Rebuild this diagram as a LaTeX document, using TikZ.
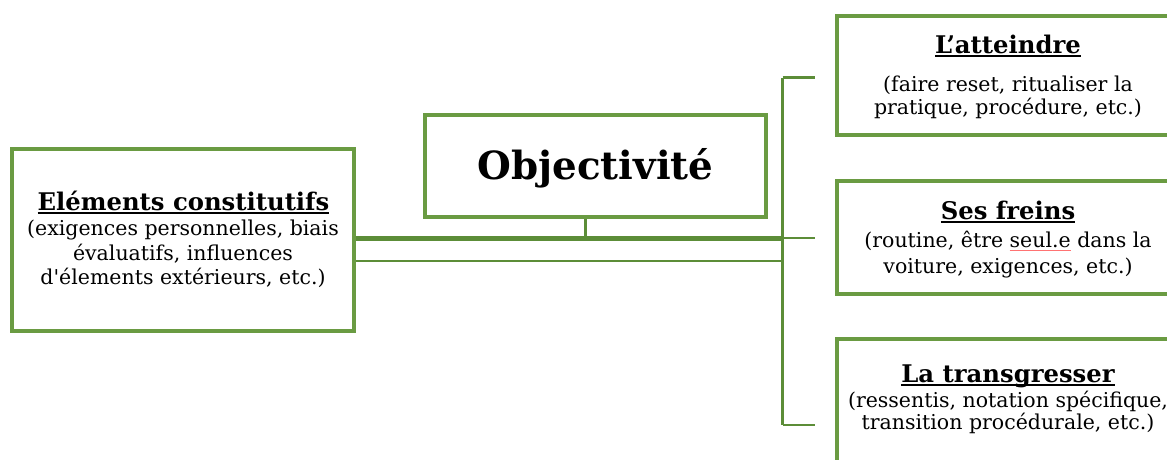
\documentclass[tikz,border=0pt]{standalone}
\usepackage{fontspec}
\setmainfont{DejaVu Serif}[Ligatures=TeXOff]
\definecolor{boxgreen}{RGB}{106,155,66}
\definecolor{linegreen}{RGB}{92,141,56}
\newcommand\ttl[1]{\setbox0\hbox{#1}\rlap{\rule[-3.6pt]{\wd0}{1.8pt}}\box0\relax}
\newcommand\spl[1]{\setbox2\hbox{#1}\rlap{\color{red!55}\rule[-3.6pt]{\wd2}{0.7pt}}\box2\relax}
\tikzset{
  gbox/.style={draw=boxgreen, line width=3.8pt, inner sep=0pt, fill=white},
  conn/.style={draw=linegreen, line width=2.8pt},
  thickconn/.style={draw=linegreen, line width=4.4pt},
  body/.style={font=\fontsize{20.5}{25}\selectfont, anchor=base, inner sep=0pt},
  head/.style={font=\bfseries\fontsize{24.3}{28}\selectfont, anchor=base, inner sep=0pt},
  big/.style={font=\bfseries\fontsize{38.8}{46}\selectfont, anchor=base, inner sep=0pt}
}
\begin{document}
\begin{tikzpicture}[x=1pt,y=-1pt]
\path[use as bounding box, clip] (0,0) rectangle (1167,459);
\fill[white] (0,0) rectangle (1167,459);
% boxes
\node[gbox, minimum width=342pt, minimum height=182pt] (elem) at (183,240) {};
\node[gbox, minimum width=341pt, minimum height=102pt] (obj) at (595.5,166) {};
\node[gbox, minimum width=344pt, minimum height=119pt] (att) at (1009,75.5) {};
\node[gbox, minimum width=344pt, minimum height=113pt] (frn) at (1009,237.5) {};
\node[gbox, minimum width=344pt, minimum height=131pt] (trs) at (1009,404.5) {};
% connector points
\coordinate (stem) at (585.5,238.5);
\coordinate (jthick) at (782.5,238.5);
\coordinate (jthin) at (782.5,261);
\coordinate (vtop) at (782.5,77.5);
\coordinate (vbot) at (782.5,425);
\coordinate (stubA) at (815,77.5);
\coordinate (stubB) at (815,238);
\coordinate (stubC) at (815,425);
\draw[conn] (vtop) -- (vbot);
\draw[conn] (vtop) -- (stubA);
\draw[conn] (jthick |- stubB) -- (stubB);
\draw[conn] (vbot) -- (stubC);
\draw[thickconn] (elem.east |- jthick) -- (jthick);
\draw[conn] (elem.east |- jthin) -- (jthin);
\draw[conn] (obj.south -| stem) -- (stem);
% texts
\node[head] (elemT) at (183.5,210) {\ttl{Eléments constitutifs}};
\node[body] (elem1) at (183,235) {(exigences personnelles, biais};
\node[body] (elem2) at (183,260) {évaluatifs, influences};
\node[body] (elem3) at (183,284.5) {d'élements extérieurs, etc.)};
\node[big] (objT) at (595.5,179) {Objectivité};
\node[head] (attT) at (1008,53) {\ttl{L’atteindre}};
\node[body] (att1) at (1008,91) {(faire reset, ritualiser la};
\node[body] (att2) at (1008,114.5) {pratique, procédure, etc.)};
\node[head] (frnT) at (1008,219) {\ttl{Ses freins}};
\node[body] (frn1) at (1008,247) {(routine, être \spl{seul.e} dans la};
\node[body] (frn2) at (1008,273) {voiture, exigences, etc.)};
\node[head] (trsT) at (1008,382) {\ttl{La transgresser}};
\node[body] (trs1) at (1008,407) {(ressentis, notation spécifique,};
\node[body] (trs2) at (1008,429.5) {transition procédurale, etc.)};
\end{tikzpicture}
\end{document}
